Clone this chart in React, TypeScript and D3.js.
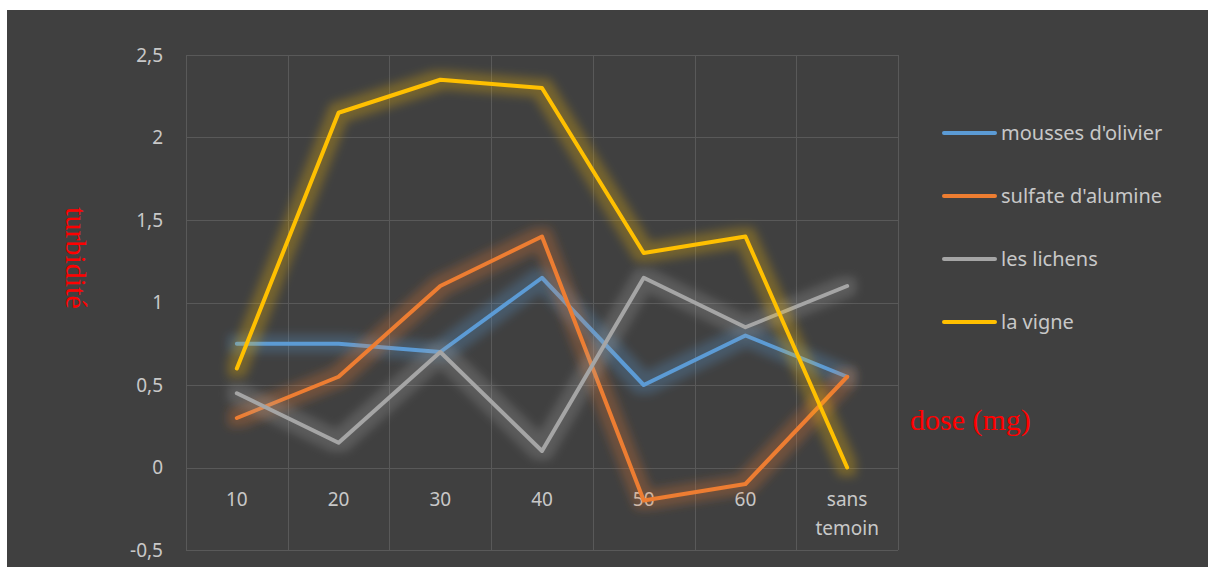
import { useRef, useEffect } from 'react';
import * as d3 from 'd3';

const categories = ['10', '20', '30', '40', '50', '60', 'sans temoin'];
const seriesNames = ["mousses d'olivier", "sulfate d'alumine", 'les lichens', 'la vigne'];
const mousses = [0.75, 0.75, 0.7, 1.15, 0.5, 0.8, 0.55];
const sulfate = [0.3, 0.55, 1.1, 1.4, -0.2, -0.1, 0.55];
const lichens = [0.45, 0.15, 0.7, 0.1, 1.15, 0.85, 1.1];
const vigne = [0.6, 2.15, 2.35, 2.3, 1.3, 1.4, 0];
const colors = ['#5B9BD5', '#ED7D31', '#A5A5A5', '#FFC000'];
const yTicks = [-0.5, 0, 0.5, 1, 1.5, 2, 2.5];
const yTickLabels = ['-0,5', '0', '0,5', '1', '1,5', '2', '2,5'];

export default function App() {
  const svgRef = useRef(null);

  useEffect(() => {
    const width = 1208;
    const height = 567;
    const svg = d3.select(svgRef.current);
    svg.selectAll('*').remove();

    const left = 186, right = 898, top = 55, bottom = 550;
    const font = "'Noto Sans', sans-serif";
    const textColor = '#C8C8C8';

    svg.append('rect')
      .attr('x', 7).attr('y', 10)
      .attr('width', width - 7).attr('height', height - 10)
      .attr('fill', '#404040');

    const x = d3.scaleBand().domain(categories).range([left, right]);
    const y = d3.scaleLinear().domain([-0.5, 2.5]).range([bottom, top]);

    // glow filters
    const defs = svg.append('defs');
    colors.forEach((c, i) => {
      const f = defs.append('filter').attr('id', 'glow' + i)
        .attr('filterUnits', 'userSpaceOnUse')
        .attr('x', 0).attr('y', 0).attr('width', width).attr('height', height);
      f.append('feMorphology').attr('in', 'SourceGraphic').attr('operator', 'dilate').attr('radius', 7).attr('result', 'thick');
      f.append('feGaussianBlur').attr('in', 'thick').attr('stdDeviation', 5).attr('result', 'blur');
      f.append('feComponentTransfer').attr('in', 'blur').attr('result', 'faded')
        .append('feFuncA').attr('type', 'linear').attr('slope', 0.28);
      const m = f.append('feMerge');
      m.append('feMergeNode').attr('in', 'faded');
      m.append('feMergeNode').attr('in', 'SourceGraphic');
    });

    // gridlines
    const grid = svg.append('g').attr('stroke', '#595959').attr('stroke-width', 1);
    yTicks.forEach(t => {
      grid.append('line')
        .attr('x1', left).attr('x2', right)
        .attr('y1', Math.round(y(t)) + 0.5).attr('y2', Math.round(y(t)) + 0.5);
    });
    const bounds = categories.map(c => x(c)).concat([right]);
    bounds.forEach(b => {
      grid.append('line')
        .attr('x1', Math.round(b) + 0.5).attr('x2', Math.round(b) + 0.5)
        .attr('y1', top).attr('y2', bottom);
    });

    // y tick labels
    svg.append('g').selectAll('text').data(yTicks).enter().append('text')
      .attr('x', 163).attr('y', d => y(d))
      .attr('dy', '0.35em')
      .attr('text-anchor', 'end')
      .attr('font-family', font).attr('font-size', 19)
      .attr('fill', textColor)
      .text((d, i) => yTickLabels[i]);

    // x tick labels
    const xl = svg.append('g');
    categories.forEach(c => {
      const words = c.split(' ');
      const t = xl.append('text')
        .attr('x', x(c) + x.bandwidth() / 2)
        .attr('y', y(0) + 32)
        .attr('text-anchor', 'middle')
        .attr('font-family', font).attr('font-size', 19)
        .attr('fill', textColor);
      words.forEach((w, i) => {
        t.append('tspan').attr('x', x(c) + x.bandwidth() / 2)
          .attr('dy', i === 0 ? '0.35em' : 29).text(w);
      });
    });

    // lines
    const line = d3.line()
      .x((d, i) => x(categories[i]) + x.bandwidth() / 2)
      .y(d => y(d));
    [mousses, sulfate, lichens, vigne].forEach((s, i) => {
      svg.append('path')
        .datum(s)
        .attr('d', line)
        .attr('fill', 'none')
        .attr('stroke', colors[i])
        .attr('stroke-width', 4)
        .attr('stroke-linejoin', 'round')
        .attr('stroke-linecap', 'round')
        .attr('filter', `url(#glow${i})`);
    });

    // legend
    const lg = svg.append('g');
    seriesNames.forEach((n, i) => {
      const ly = 133 + i * 63;
      lg.append('line')
        .attr('x1', 944).attr('x2', 995)
        .attr('y1', ly).attr('y2', ly)
        .attr('stroke', colors[i]).attr('stroke-width', 4)
        .attr('stroke-linecap', 'round');
      lg.append('text')
        .attr('x', 1001).attr('y', ly).attr('dy', '0.35em')
        .attr('font-family', font).attr('font-size', 20)
        .attr('fill', textColor)
        .text(n);
    });

    // axis titles
    svg.append('text')
      .attr('transform', 'translate(66,258) rotate(90)')
      .attr('text-anchor', 'middle')
      .attr('font-family', "'Liberation Serif', serif").attr('font-size', 30)
      .attr('fill', '#FF0000')
      .text('turbidité');
    svg.append('text')
      .attr('x', 910).attr('y', 430)
      .attr('font-family', "'Liberation Serif', serif").attr('font-size', 30)
      .attr('fill', '#FF0000')
      .text('dose (mg)');
  }, []);

  return (
    <svg ref={svgRef} width={1208} height={567} style={{ position: 'absolute', left: 0, top: 0, display: 'block' }} />
  );
}
